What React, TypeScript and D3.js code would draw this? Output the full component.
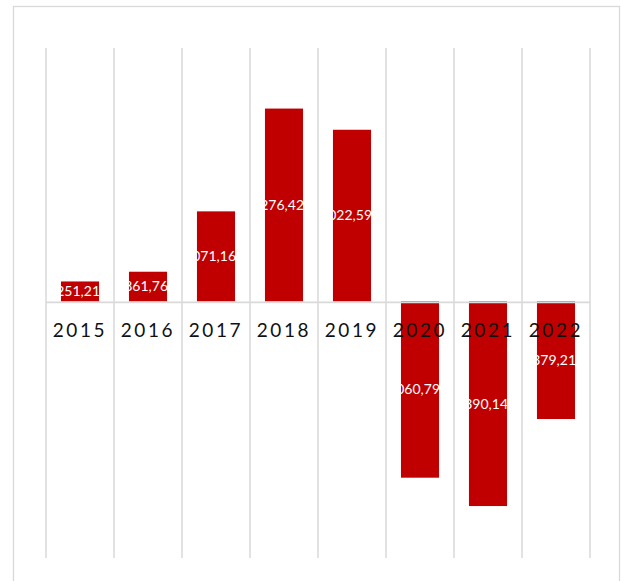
import React from "react";
import * as d3 from "d3";

const categories = ["2015", "2016", "2017", "2018", "2019", "2020", "2021", "2022"];
const values = [1251.21, 1861.76, 5650, 12100, 10770, -11060.79, -12840, -7379.21];
const dataLabels = ["1.251,21", "1.861,76", "5.071,16", "11.276,42", "11.022,59", "-11.060,79", "-12.390,14", "-7.379,21"];
const yDomain = [-16100, 15900];

const W = 621;
const H = 581;
const plotLeft = 46;
const plotRight = 590;
const plotTop = 48;
const plotBottom = 558;
const grid = "#d9d9d9";
const barColor = "#c00000";

export default function App() {
  const pad = 0.44;
  const x = d3
    .scaleBand<string>()
    .domain(categories)
    .range([plotLeft, plotRight])
    .paddingInner(pad)
    .paddingOuter(pad / 2);
  const y = d3.scaleLinear().domain(yDomain).range([plotBottom, plotTop]);
  const step = x.step();
  const bw = x.bandwidth();
  const gridXs = categories.map((c) => (x(c) as number) - (step * pad) / 2);
  gridXs.push(plotRight);
  const y0 = y(0);

  return (
    <svg
      width={W}
      height={H}
      style={{ position: "absolute", left: 0, top: 0, background: "#fff" }}
    >
      <defs>
        {categories.map((c, i) => {
          const v = values[i];
          return (
            <clipPath key={"cp" + c} id={"clip" + i}>
              <rect x={x(c)} y={Math.min(y(v), y0)} width={bw} height={Math.abs(y(v) - y0)} />
            </clipPath>
          );
        })}
      </defs>
      <rect x={13.5} y={6.5} width={606} height={620} fill="#fff" stroke={grid} strokeWidth={1.3} />
      {gridXs.map((gx, i) => (
        <line key={"g" + i} x1={gx} x2={gx} y1={plotTop} y2={plotBottom} stroke={grid} strokeWidth={1.5} />
      ))}
      {categories.map((c, i) => {
        const v = values[i];
        const top = Math.min(y(v), y0);
        const h = Math.abs(y(v) - y0);
        return <rect key={"b" + c} x={x(c)} y={top} width={bw} height={h} fill={barColor} />;
      })}
      <line x1={plotLeft} x2={plotRight} y1={y0 + 1} y2={y0 + 1} stroke={grid} strokeWidth={1.8} />
      {categories.map((c, i) => {
        const v = values[i];
        const cy = (y(v) + y0) / 2;
        return (
          <text
            key={"l" + c}
            x={(x(c) as number) + bw + 1}
            y={cy}
            dy="0.35em"
            textAnchor="end"
            fill="#fff"
            clipPath={`url(#clip${i})`}
            fontFamily="Lato, 'Open Sans', sans-serif"
            fontSize={14}
          >
            {dataLabels[i]}
          </text>
        );
      })}
      {categories.map((c) => (
        <text
          key={"c" + c}
          x={(x(c) as number) + bw / 2}
          y={336.5}
          textAnchor="middle"
          fill="#111"
          fontFamily="Lato, 'Open Sans', sans-serif"
          fontSize={19}
          letterSpacing={2.6}
        >
          {c}
        </text>
      ))}
    </svg>
  );
}
